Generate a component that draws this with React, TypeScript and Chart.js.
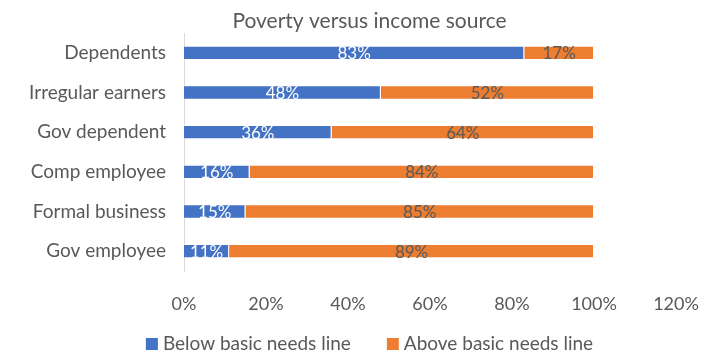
import React, { useEffect, useRef } from 'react';
import { Chart, registerables } from 'chart.js';

Chart.register(...registerables);

const categories = ['Dependents', 'Irregular earners', 'Gov dependent', 'Comp employee', 'Formal business', 'Gov employee'];
const belowValues = [83, 48, 36, 16, 15, 11];
const aboveValues = [17, 52, 64, 84, 85, 89];
const seriesNames = ['Below basic needs line', 'Above basic needs line'];
const xTicks = [0, 20, 40, 60, 80, 100, 120];
const chartTitle = 'Poverty versus income source';

const FONT = 'Lato, "Open Sans", sans-serif';
const TEXT = '#595959';
const COLORS = ['#4472C4', '#ED7D31'];

const labelPlugin = {
  id: 'segLabels',
  afterDatasetsDraw(chart: any) {
    const ctx = chart.ctx;
    ctx.save();
    ctx.font = `17px ${FONT}`;
    ctx.textAlign = 'center';
    ctx.textBaseline = 'middle';
    chart.data.datasets.forEach((ds: any, di: number) => {
      const meta = chart.getDatasetMeta(di);
      meta.data.forEach((el: any, i: number) => {
        const v = ds.data[i];
        const cx = (el.x + el.base) / 2;
        ctx.fillStyle = di === 0 ? '#ffffff' : TEXT;
        ctx.fillText(v + '%', cx, el.y + 1);
      });
    });
    ctx.restore();
  },
};

// Title and legend drawn in Excel-like placement
const titleLegendPlugin = {
  id: 'titleLegend',
  afterDraw(chart: any) {
    const ctx = chart.ctx;
    const cx = chart.width / 2 + 7;
    ctx.save();
    ctx.fillStyle = TEXT;
    ctx.textBaseline = 'middle';
    ctx.textAlign = 'center';
    ctx.font = `21px ${FONT}`;
    ctx.fillText(chartTitle, cx, 21);

    ctx.font = `19px ${FONT}`;
    ctx.textAlign = 'left';
    const box = 12;
    const gapBoxText = 5;
    const gapItems = 36;
    const items = chart.data.datasets.map((ds: any) => ({
      text: ds.label,
      color: ds.backgroundColor,
      w: ctx.measureText(ds.label).width,
    }));
    const total = items.reduce((s: number, it: any) => s + box + gapBoxText + it.w, 0) + gapItems * (items.length - 1);
    let x = cx - total / 2;
    const y = 344;
    items.forEach((it: any) => {
      ctx.fillStyle = it.color;
      ctx.fillRect(x, y - box / 2, box, box);
      x += box + gapBoxText;
      ctx.fillStyle = TEXT;
      ctx.fillText(it.text, x, y);
      x += it.w + gapItems;
    });
    ctx.restore();
  },
};

export default function App() {
  const ref = useRef<HTMLCanvasElement>(null);
  useEffect(() => {
    if (!ref.current) return;
    const chart = new Chart(ref.current, {
      type: 'bar',
      data: {
        labels: categories,
        datasets: [
          { label: seriesNames[0], data: belowValues, backgroundColor: COLORS[0], borderColor: 'rgba(255,255,255,0.35)', borderWidth: 1 },
          { label: seriesNames[1], data: aboveValues, backgroundColor: COLORS[1], borderColor: 'rgba(255,255,255,0.35)', borderWidth: 1 },
        ],
      },
      options: {
        indexAxis: 'y',
        animation: false,
        responsive: true,
        maintainAspectRatio: false,
        layout: { padding: { left: 0, right: 49, top: 33, bottom: 26 } },
        datasets: { bar: { categoryPercentage: 1, barPercentage: 0.36 } },
        scales: {
          x: {
            stacked: true,
            min: 0,
            max: 120,
            grid: { display: false },
            border: { display: false },
            afterBuildTicks: (scale: any) => {
              scale.ticks = xTicks.map((v) => ({ value: v }));
            },
            afterFit: (scale: any) => {
              scale.height = 58;
            },
            ticks: {
              padding: 14,
              color: TEXT,
              font: { family: FONT, size: 18 },
              callback: (v: any) => v + '%',
            },
          },
          y: {
            stacked: true,
            grid: { display: false },
            border: { display: true, color: '#d9d9d9', width: 1 },
            afterFit: (scale: any) => {
              scale.width = 184;
            },
            ticks: {
              padding: 10,
              color: TEXT,
              font: { family: FONT, size: 19 },
            },
          },
        },
        plugins: {
          tooltip: { enabled: false },
          title: { display: false },
          legend: { display: false },
        },
      },
      plugins: [labelPlugin, titleLegendPlugin],
    });
    return () => chart.destroy();
  }, []);
  return (
    <div style={{ position: 'absolute', left: 0, top: 0, width: 725, height: 355 }}>
      <canvas ref={ref} />
    </div>
  );
}
